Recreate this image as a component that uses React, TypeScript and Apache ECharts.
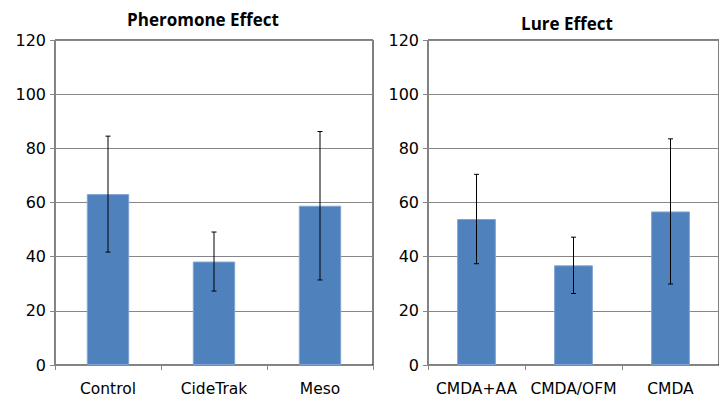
import React, { useEffect, useRef } from "react";
import * as echarts from "echarts";

// Pheromone panel
const pheromoneCats = ["Control", "CideTrak", "Meso"];
const pheromoneMeans = [63.1, 38.2, 58.8];
const pheromoneErrs = [21.4, 10.9, 27.4];

// Lure panel
const lureCats = ["CMDA+AA", "CMDA/OFM", "CMDA"];
const lureMeans = [53.9, 36.8, 56.7];
const lureErrs = [16.5, 10.4, 26.8];

const yTicks = { min: 0, max: 120, interval: 20 };

const BAR = "#4f81bd";
const AXIS = "#868686";
const FONT = "DejaVu Sans";

function errorSeries(gridIdx: number, means: number[], errs: number[]) {
  return {
    type: "custom",
    xAxisIndex: gridIdx,
    yAxisIndex: gridIdx,
    z: 5,
    data: means.map((m, i) => [i, m - errs[i], m + errs[i]]),
    renderItem: (_p: any, api: any) => {
      const x = api.value(0);
      const lo = api.coord([x, api.value(1)]);
      const hi = api.coord([x, api.value(2)]);
      const cap = 2.5;
      const style = { stroke: "#000", lineWidth: 1 };
      return {
        type: "group",
        children: [
          { type: "line", shape: { x1: lo[0], y1: lo[1], x2: hi[0], y2: hi[1] }, style },
          { type: "line", shape: { x1: hi[0] - cap, y1: hi[1], x2: hi[0] + cap, y2: hi[1] }, style },
          { type: "line", shape: { x1: lo[0] - cap, y1: lo[1], x2: lo[0] + cap, y2: lo[1] }, style },
        ],
      };
    },
  };
}

function yAxis(gridIndex: number) {
  return {
    type: "value",
    gridIndex,
    ...yTicks,
    axisLine: { show: true, lineStyle: { color: AXIS, width: 1 } },
    axisTick: { show: true, length: 5, lineStyle: { color: AXIS } },
    axisLabel: { color: "#000", fontSize: 16, fontFamily: FONT, margin: 9 },
    splitLine: { show: true, lineStyle: { color: AXIS, width: 1 } },
  };
}

function xAxis(gridIndex: number, data: string[]) {
  return {
    type: "category",
    gridIndex,
    data,
    axisLine: { show: true, lineStyle: { color: AXIS, width: 1 } },
    axisTick: { show: true, length: 5, alignWithLabel: false, lineStyle: { color: AXIS } },
    axisLabel: { color: "#000", fontSize: 15.5, fontFamily: FONT, margin: 16, interval: 0 },
    z: 3,
  };
}

export default function App() {
  const ref = useRef<HTMLDivElement>(null);

  useEffect(() => {
    if (!ref.current) return;
    const chart = echarts.init(ref.current, null, { renderer: "svg" });
    chart.setOption({
      animation: false,
      backgroundColor: "#fff",
      title: [
        {
          text: "Pheromone Effect",
          left: 198,
          top: 6,
          textAlign: "center",
          textStyle: { fontFamily: "Open Sans", fontWeight: "bold", fontSize: 17, color: "#000" },
        },
        {
          text: "Lure Effect",
          left: 562,
          top: 10,
          textAlign: "center",
          textStyle: { fontFamily: "Open Sans", fontWeight: "bold", fontSize: 17, color: "#000" },
        },
      ],
      grid: [
        { left: 55, top: 40, width: 318, height: 325, show: true, borderColor: "#000", borderWidth: 1 },
        { left: 428, top: 40, width: 296, height: 325, show: true, borderColor: "#000", borderWidth: 1 },
      ],
      xAxis: [xAxis(0, pheromoneCats), xAxis(1, lureCats)],
      yAxis: [yAxis(0), yAxis(1)],
      series: [
        {
          type: "bar",
          xAxisIndex: 0,
          yAxisIndex: 0,
          data: pheromoneMeans,
          barWidth: "40%",
          itemStyle: { color: BAR, borderColor: "#7fa6d6", borderWidth: 1 },
        },
        {
          type: "bar",
          xAxisIndex: 1,
          yAxisIndex: 1,
          data: lureMeans,
          barWidth: "40%",
          itemStyle: { color: BAR, borderColor: "#7fa6d6", borderWidth: 1 },
        },
        errorSeries(0, pheromoneMeans, pheromoneErrs),
        errorSeries(1, lureMeans, lureErrs),
      ],
    });
    return () => chart.dispose();
  }, []);

  return (
    <div
      ref={ref}
      style={{ position: "absolute", left: 0, top: 0, width: 719, height: 400, overflow: "hidden" }}
    />
  );
}
